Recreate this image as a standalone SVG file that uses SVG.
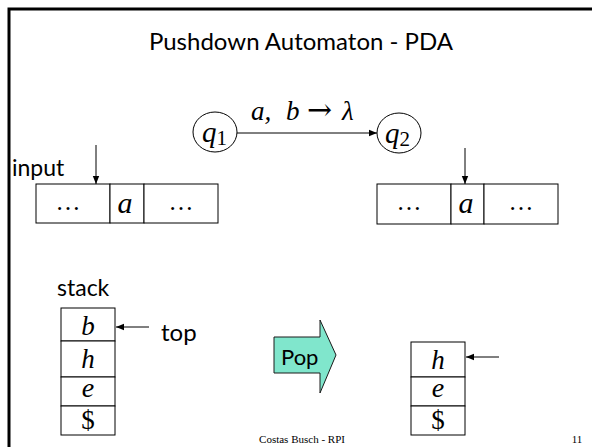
<svg xmlns="http://www.w3.org/2000/svg" width="592" height="447" viewBox="0 0 592 447">
  <style>
    .sans { font-family: "Lato", "Open Sans", "Liberation Sans", sans-serif; fill: #000; }
    .math { font-family: "Liberation Serif", "DejaVu Serif", serif; font-style: italic; fill: #000; }
    .rom { font-family: "Liberation Serif", "DejaVu Serif", serif; font-style: normal; fill: #000; }
    .sym { font-family: "DejaVu Serif", "Liberation Serif", serif; font-style: normal; fill: #000; }
    .cell { fill: #fff; stroke: #000; stroke-width: 1; }
    .state { fill: #fff; stroke: #000; stroke-width: 1; }
    .edge { stroke: #000; stroke-width: 1; fill: none; }
  </style>
  <defs>
    <marker id="head" viewBox="0 0 10 10" refX="10" refY="5" markerWidth="8" markerHeight="8" markerUnits="userSpaceOnUse" orient="auto">
      <path d="M0,1 L10,5 L0,9 Z" fill="#000"/>
    </marker>
  </defs>

  <rect width="592" height="447" fill="#fff"/>
  <!-- slide frame -->
  <rect x="9" y="9" width="600" height="460" fill="none" stroke="#000" stroke-width="3"/>

  <text class="sans" x="301" y="50" font-size="24" text-anchor="middle">Pushdown Automaton - PDA</text>

  <!-- states -->
  <g id="q1">
    <ellipse class="state" cx="215" cy="132" rx="22" ry="20"/>
    <text class="math" x="202" y="142" font-size="29">q<tspan class="rom" font-size="21" dy="3">1</tspan></text>
  </g>
  <g id="q2">
    <ellipse class="state" cx="399" cy="133" rx="22" ry="20"/>
    <text class="math" x="385" y="143" font-size="29">q<tspan class="rom" font-size="21" dy="3">2</tspan></text>
  </g>

  <!-- connectors -->
  <g id="connectors">
    <line class="edge" x1="237" y1="133" x2="377" y2="133" marker-end="url(#head)"/>
    <line class="edge" x1="96" y1="145" x2="96" y2="184" marker-end="url(#head)"/>
    <line class="edge" x1="465" y1="148" x2="465" y2="184" marker-end="url(#head)"/>
    <line class="edge" x1="149" y1="327" x2="116" y2="327" marker-end="url(#head)"/>
    <line class="edge" x1="499" y1="357" x2="466" y2="357" marker-end="url(#head)"/>
  </g>
  <text class="math" y="120" font-size="27"><tspan x="251">a,</tspan><tspan x="286">b</tspan><tspan class="sym" x="307" font-size="30">→</tspan><tspan x="342">λ</tspan></text>

  <!-- input tape, before -->
  <g id="tape-before">
    <text class="sans" x="12" y="176" font-size="23">input</text>
    <rect class="cell" x="36" y="184" width="74" height="39"/>
    <rect class="cell" x="110" y="184" width="34" height="39"/>
    <rect class="cell" x="144" y="184" width="74" height="39"/>
    <text class="rom" x="68" y="210" font-size="25" text-anchor="middle">…</text>
    <text class="math" x="125" y="213" font-size="30" text-anchor="middle">a</text>
    <text class="rom" x="181" y="210" font-size="25" text-anchor="middle">…</text>
  </g>

  <!-- input tape, after -->
  <g id="tape-after">
    <rect class="cell" x="377" y="184" width="74" height="40"/>
    <rect class="cell" x="451" y="184" width="33" height="40"/>
    <rect class="cell" x="484" y="184" width="74" height="40"/>
    <text class="rom" x="409" y="210" font-size="25" text-anchor="middle">…</text>
    <text class="math" x="466" y="213" font-size="30" text-anchor="middle">a</text>
    <text class="rom" x="521" y="210" font-size="25" text-anchor="middle">…</text>
  </g>

  <!-- stack, before -->
  <g id="stack-before">
    <text class="sans" x="57" y="296" font-size="23">stack</text>
    <rect class="cell" x="61" y="308" width="54" height="33"/>
    <rect class="cell" x="61" y="341" width="54" height="36"/>
    <rect class="cell" x="61" y="377" width="54" height="29"/>
    <rect class="cell" x="61" y="406" width="54" height="29"/>
    <text class="math" x="88" y="335" font-size="27" text-anchor="middle">b</text>
    <text class="math" x="88" y="368" font-size="27" text-anchor="middle">h</text>
    <text class="math" x="88" y="397" font-size="28" text-anchor="middle">e</text>
    <text class="rom" x="88" y="429" font-size="27" text-anchor="middle">$</text>
    <text class="sans" x="161" y="341" font-size="24">top</text>
  </g>

  <!-- pop operation -->
  <g id="pop">
    <path d="M274,337 H320 V320 L336,355 L320,393 V373 H274 Z" fill="#80e6cc" stroke="#1a1a1a" stroke-width="1"/>
    <text class="sans" x="281" y="365" font-size="22">Pop</text>
  </g>

  <!-- stack, after -->
  <g id="stack-after">
    <rect class="cell" x="411" y="342" width="54" height="35"/>
    <rect class="cell" x="411" y="377" width="54" height="29"/>
    <rect class="cell" x="411" y="406" width="54" height="29"/>
    <text class="math" x="438" y="369" font-size="27" text-anchor="middle">h</text>
    <text class="math" x="438" y="397" font-size="28" text-anchor="middle">e</text>
    <text class="rom" x="438" y="429" font-size="27" text-anchor="middle">$</text>
  </g>

  <text class="rom" x="302" y="443" font-size="11" text-anchor="middle">Costas Busch - RPI</text>
  <text class="rom" x="577" y="443" font-size="11" text-anchor="middle">11</text>
</svg>
